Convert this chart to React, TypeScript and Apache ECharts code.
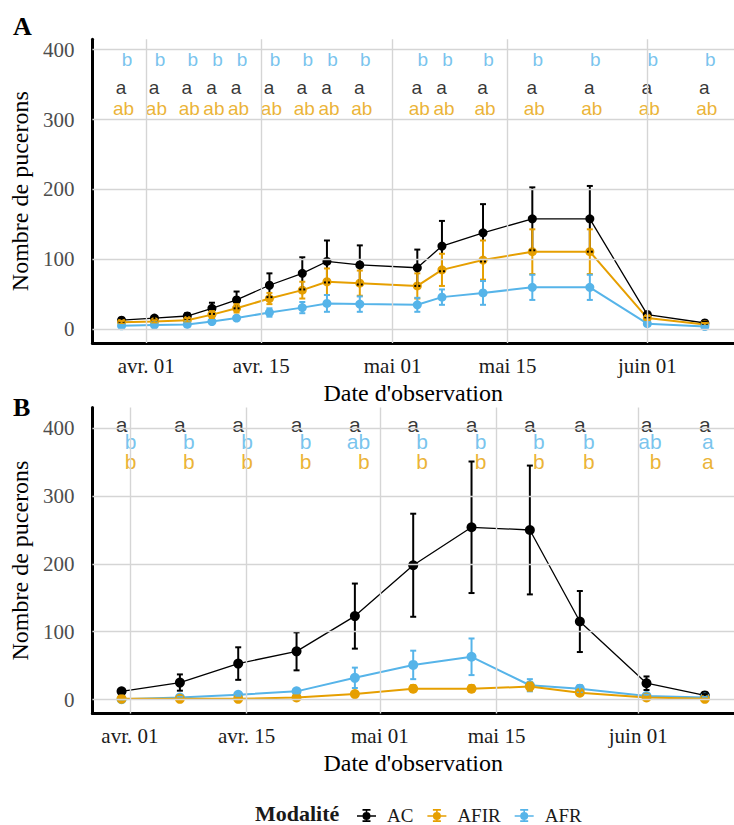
import React, { useEffect, useRef } from 'react';
import * as echarts from 'echarts';

// ---------- Data ----------
const DATES_A = ['03-29', '04-02', '04-06', '04-09', '04-12', '04-16', '04-20', '04-23', '04-27', '05-04', '05-07', '05-12', '05-18', '05-25', '06-01', '06-08'];
const AC_A = [13, 16, 19, 30, 42, 63, 80, 97, 92, 88, 119, 138, 158, 158, 21, 9];
const AC_A_SE = [3, 3, 4, 8, 12, 17, 23, 30, 28, 26, 36, 41, 45, 47, 4, 2];
const AFIR_A = [10, 11, 13, 21, 30, 44, 56, 68, 66, 62, 85, 99, 111, 111, 16, 7];
const AFIR_A_SE = [2, 2, 3, 5, 6, 8, 12, 19, 18, 18, 23, 28, 32, 32, 3, 2];
const AFR_A = [5, 6, 7, 11, 16, 24, 31, 37, 36, 35, 46, 52, 60, 60, 8, 4];
const AFR_A_SE = [1, 1, 1.5, 2, 3, 6, 8, 12, 11, 10, 11, 17, 18, 18, 2, 1];
const LET_A_AC = ['a', 'a', 'a', 'a', 'a', 'a', 'a', 'a', 'a', 'a', 'a', 'a', 'a', 'a', 'a', 'a'];
const LET_A_AFIR = ['ab', 'ab', 'ab', 'ab', 'ab', 'ab', 'ab', 'ab', 'ab', 'ab', 'ab', 'ab', 'ab', 'ab', 'ab', 'ab'];
const LET_A_AFR = ['b', 'b', 'b', 'b', 'b', 'b', 'b', 'b', 'b', 'b', 'b', 'b', 'b', 'b', 'b', 'b'];

const DATES_B = ['03-31', '04-07', '04-14', '04-21', '04-28', '05-05', '05-12', '05-19', '05-25', '06-02', '06-09'];
const AC_B = [12, 25, 53, 71, 123, 198, 254, 250, 115, 24, 6];
const AC_B_SE = [3, 12, 24, 28, 48, 76, 97, 95, 45, 10, 2];
const AFIR_B = [1, 1, 1, 3, 8, 16, 16, 19, 10, 3, 1];
const AFIR_B_SE = [0.3, 0.3, 0.3, 0.8, 2.5, 5, 5, 6, 3, 1, 0.3];
const AFR_B = [0.5, 3, 7, 12, 32, 51, 63, 21, 16, 5, 3];
const AFR_B_SE = [0.3, 0.8, 1.5, 3, 15, 21, 27, 9, 5, 2, 0.8];
const LET_B_AC = ['a', 'a', 'a', 'a', 'a', 'a', 'a', 'a', 'a', 'a', 'a'];
const LET_B_AFR = ['b', 'b', 'b', 'b', 'ab', 'b', 'b', 'b', 'b', 'ab', 'a'];
const LET_B_AFIR = ['b', 'b', 'b', 'b', 'b', 'b', 'b', 'b', 'b', 'b', 'a'];

const X_TICK_DATES = ['04-01', '04-15', '05-01', '05-15', '06-01'];
const X_TICK_LABELS = ['avr. 01', 'avr. 15', 'mai 01', 'mai 15', 'juin 01'];
const Y_TICKS = [0, 100, 200, 300, 400];

// ---------- Styles ----------
const COLORS: Record<string, string> = { AC: '#000000', AFIR: '#E69F00', AFR: '#56B4E9' };
const SERIF = '"Liberation Serif", "Times New Roman", serif';
const SANS = '"Liberation Sans", Arial, sans-serif';
const GRID_COLOR = '#d5d5d5';

const dayOf = (s: string) => {
  const [m, d] = s.split('-').map(Number);
  return Math.round((Date.UTC(2021, m - 1, d) - Date.UTC(2021, 3, 1)) / 86400000);
};
const X_TICK_DAYS = X_TICK_DATES.map(dayOf);

const LEGEND_ICON =
  'path://M0,6.7h19v1.6H0z M8.7,0.5h1.6v13H8.7z M5.5,0.5h8v1.8h-8z M5.5,11.7h8v1.8h-8z M5.5,7.5a4,4 0 1,1 8,0a4,4 0 1,1 -8,0z';

function errorBarSeries(name: string, p: number, dates: string[], vals: number[], se: number[], width: number) {
  const color = COLORS[name];
  return {
    type: 'custom',
    name: name + '-err-' + p,
    xAxisIndex: p,
    yAxisIndex: p,
    silent: true,
    z: 3,
    data: dates.map((d, i) => [dayOf(d), vals[i] - se[i], vals[i] + se[i]]),
    encode: { x: 0, y: [1, 2] },
    renderItem: (_params: any, api: any) => {
      const x = api.value(0);
      const lo = api.coord([x, api.value(1)]);
      const hi = api.coord([x, api.value(2)]);
      const w = 3;
      const style = { stroke: color, lineWidth: width };
      return {
        type: 'group',
        children: [
          { type: 'line', shape: { x1: lo[0], y1: lo[1], x2: hi[0], y2: hi[1] }, style },
          { type: 'line', shape: { x1: lo[0] - w, y1: lo[1], x2: lo[0] + w, y2: lo[1] }, style },
          { type: 'line', shape: { x1: hi[0] - w, y1: hi[1], x2: hi[0] + w, y2: hi[1] }, style },
        ],
      };
    },
  };
}

function lineSeries(name: string, p: number, dates: string[], vals: number[], width: number, size: number) {
  const color = COLORS[name];
  return {
    type: 'line',
    name,
    xAxisIndex: p,
    yAxisIndex: p,
    data: dates.map((d, i) => [dayOf(d), vals[i]]),
    symbol: 'circle',
    symbolSize: size,
    showSymbol: true,
    lineStyle: { color, width },
    itemStyle: { color },
    z: 2,
    silent: true,
  };
}

function letterSeries(name: string, p: number, dates: string[], letters: string[], level: number, fontSize: number, offsetOf: (l: string) => number) {
  return {
    type: 'scatter',
    name: name + '-letters-' + p,
    xAxisIndex: p,
    yAxisIndex: p,
    silent: true,
    z: 4,
    symbolSize: 1,
    itemStyle: { color: 'rgba(0,0,0,0)' },
    data: dates.map((d, i) => ({
      value: [dayOf(d), level],
      label: { formatter: letters[i], offset: [offsetOf(letters[i]), 0] },
    })),
    label: {
      show: true,
      position: 'inside',
      color: COLORS[name],
      fontFamily: SANS,
      fontSize,
      lineHeight: 15,
    },
  };
}

function gridLineSeries(p: number) {
  return {
    type: 'line',
    name: 'grid-' + p,
    xAxisIndex: p,
    yAxisIndex: p,
    data: [],
    silent: true,
    z: 0,
    markLine: {
      silent: true,
      symbol: ['none', 'none'],
      label: { show: false },
      emphasis: { disabled: true },
      lineStyle: { color: GRID_COLOR, width: 1.4, type: 'solid' },
      data: [
        ...X_TICK_DAYS.map((v) => ({ xAxis: v })),
        ...Y_TICKS.map((v) => ({ yAxis: v })),
      ],
    },
  };
}

function xAxis(p: number, min: number, max: number) {
  return {
    type: 'value',
    gridIndex: p,
    min,
    max,
    axisLine: { show: true, onZero: false, lineStyle: { color: '#000', width: 3 } },
    axisTick: { show: false },
    splitLine: { show: false },
    axisLabel: {
      customValues: X_TICK_DAYS,
      formatter: (v: number) => {
        const i = X_TICK_DAYS.indexOf(Math.round(v));
        return i >= 0 ? X_TICK_LABELS[i] : '';
      },
      fontFamily: SERIF,
      fontSize: 21,
      color: '#1a1a1a',
      margin: 12,
    },
    name: "Date d'observation",
    nameLocation: 'middle',
    nameGap: 38,
    nameTextStyle: { fontFamily: SERIF, fontSize: 24, color: '#000' },
  };
}

function yAxis(p: number, min: number, max: number) {
  return {
    type: 'value',
    gridIndex: p,
    min,
    max,
    axisLine: { show: true, onZero: false, lineStyle: { color: '#000', width: 3 } },
    axisTick: { show: false },
    splitLine: { show: false },
    axisLabel: {
      customValues: Y_TICKS,
      fontFamily: SERIF,
      fontSize: 21,
      color: '#4d4d4d',
      margin: 18,
    },
    name: 'Nombre de pucerons',
    nameLocation: 'middle',
    nameGap: 58,
    nameRotate: 90,
    nameTextStyle: { fontFamily: SERIF, fontSize: 24, color: '#000' },
  };
}

const offA = (l: string) => (l === 'a' ? -0.5 : l === 'ab' ? 2 : 5.5);
const offBAC = (_l: string) => 0;
const offBOther = (l: string) => (l === 'b' ? 9 : l === 'ab' ? 3.5 : 3);

export default function App() {
  const ref = useRef<HTMLDivElement>(null);

  useEffect(() => {
    if (!ref.current) return;
    const chart = echarts.init(ref.current, undefined, { renderer: 'svg' });
    const option: any = {
      animation: false,
      grid: [
        { left: 87.5, top: 39.3, width: 658.4, height: 303.8 },
        { left: 88, top: 407.6, width: 658.4, height: 305.8 },
      ],
      xAxis: [xAxis(0, -6.55, 71.55), xAxis(1, -4.5, 72.5)],
      yAxis: [yAxis(0, -19.75, 414.75), yAxis(1, -20.5, 430.5)],
      legend: {
        data: ['AC', 'AFIR', 'AFR'],
        left: 357,
        top: 806,
        padding: 0,
        icon: LEGEND_ICON,
        itemWidth: 19,
        itemHeight: 14,
        itemGap: 14,
        selectedMode: false,
        textStyle: { fontFamily: SERIF, fontSize: 19, color: '#1a1a1a', padding: [0, 0, 0, 6] },
      },
      graphic: [
        { type: 'text', left: 13, top: 13, style: { text: 'A', font: `bold 26px ${SERIF}`, fill: '#000' } },
        { type: 'text', left: 13, top: 394, style: { text: 'B', font: `bold 26px ${SERIF}`, fill: '#000' } },
        { type: 'text', left: 255, top: 802, style: { text: 'Modalité', font: `bold 22px ${SERIF}`, fill: '#1a1a1a' } },
      ],
      series: [
        gridLineSeries(0),
        gridLineSeries(1),
        // Panel A
        lineSeries('AC', 0, DATES_A, AC_A, 1.3, 9),
        lineSeries('AFIR', 0, DATES_A, AFIR_A, 2, 9),
        lineSeries('AFR', 0, DATES_A, AFR_A, 2, 9),
        errorBarSeries('AC', 0, DATES_A, AC_A, AC_A_SE, 2),
        errorBarSeries('AFIR', 0, DATES_A, AFIR_A, AFIR_A_SE, 2),
        errorBarSeries('AFR', 0, DATES_A, AFR_A, AFR_A_SE, 2),
        letterSeries('AFR', 0, DATES_A, LET_A_AFR, 386, 19, offA),
        letterSeries('AC', 0, DATES_A, LET_A_AC, 346, 19, offA),
        letterSeries('AFIR', 0, DATES_A, LET_A_AFIR, 316, 19, offA),
        // Panel B
        lineSeries('AC', 1, DATES_B, AC_B, 1.3, 10),
        lineSeries('AFR', 1, DATES_B, AFR_B, 2, 10),
        lineSeries('AFIR', 1, DATES_B, AFIR_B, 2, 10),
        errorBarSeries('AC', 1, DATES_B, AC_B, AC_B_SE, 2),
        errorBarSeries('AFR', 1, DATES_B, AFR_B, AFR_B_SE, 2),
        errorBarSeries('AFIR', 1, DATES_B, AFIR_B, AFIR_B_SE, 2),
        letterSeries('AC', 1, DATES_B, LET_B_AC, 405, 21, offBAC),
        letterSeries('AFR', 1, DATES_B, LET_B_AFR, 380, 21, offBOther),
        letterSeries('AFIR', 1, DATES_B, LET_B_AFIR, 351, 21, offBOther),
      ],
    };
    chart.setOption(option);
    return () => chart.dispose();
  }, []);

  return <div ref={ref} style={{ position: 'absolute', left: 0, top: 0, width: 734, height: 825 }} />;
}
